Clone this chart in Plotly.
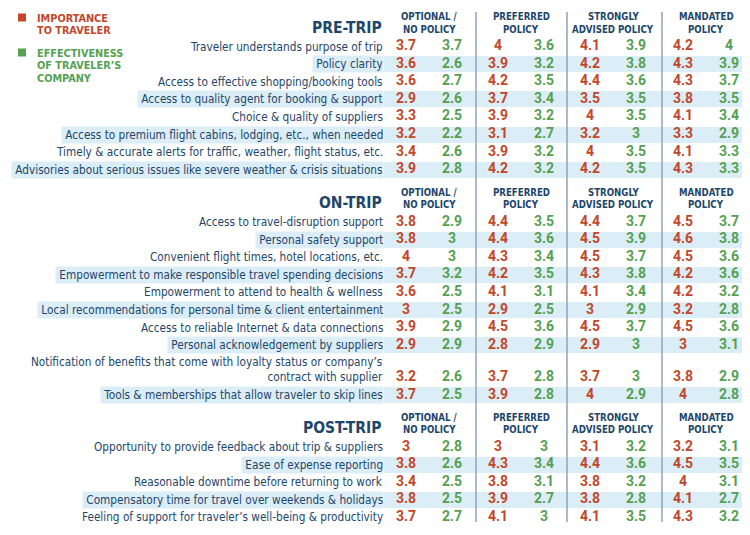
import plotly.graph_objects as go

# ---------------- data ----------------
policies = ["OPTIONAL /<br>NO POLICY", "PREFERRED<br>POLICY",
            "STRONGLY<br>ADVISED POLICY", "MANDATED<br>POLICY"]
section_titles = ["PRE-TRIP", "ON-TRIP", "POST-TRIP"]
legend_labels = ["IMPORTANCE<br>TO TRAVELER", "EFFECTIVENESS<br>OF TRAVELER’S<br>COMPANY"]

pre_trip_labels = [
    "Traveler understands purpose of trip",
    "Policy clarity",
    "Access to effective shopping/booking tools",
    "Access to quality agent for booking & support",
    "Choice & quality of suppliers",
    "Access to premium flight cabins, lodging, etc., when needed",
    "Timely & accurate alerts for traffic, weather, flight status, etc.",
    "Advisories about serious issues like severe weather & crisis situations",
]
pre_trip_importance = [
    [3.7, 4, 4.1, 4.2], [3.6, 3.9, 4.2, 4.3], [3.6, 4.2, 4.4, 4.3], [2.9, 3.7, 3.5, 3.8],
    [3.3, 3.9, 4, 4.1], [3.2, 3.1, 3.2, 3.3], [3.4, 3.9, 4, 4.1], [3.9, 4.2, 4.2, 4.3],
]
pre_trip_effectiveness = [
    [3.7, 3.6, 3.9, 4], [2.6, 3.2, 3.8, 3.9], [2.7, 3.5, 3.6, 3.7], [2.6, 3.4, 3.5, 3.5],
    [2.5, 3.2, 3.5, 3.4], [2.2, 2.7, 3, 2.9], [2.6, 3.2, 3.5, 3.3], [2.8, 3.2, 3.5, 3.3],
]

on_trip_labels = [
    "Access to travel-disruption support",
    "Personal safety support",
    "Convenient flight times, hotel locations, etc.",
    "Empowerment to make responsible travel spending decisions",
    "Empowerment to attend to health & wellness",
    "Local recommendations for personal time & client entertainment",
    "Access to reliable Internet & data connections",
    "Personal acknowledgement by suppliers",
    "Notification of benefits that come with loyalty status or company’s<br>contract with supplier",
    "Tools & memberships that allow traveler to skip lines",
]
on_trip_importance = [
    [3.8, 4.4, 4.4, 4.5], [3.8, 4.4, 4.5, 4.6], [4, 4.3, 4.5, 4.5], [3.7, 4.2, 4.3, 4.2],
    [3.6, 4.1, 4.1, 4.2], [3, 2.9, 3, 3.2], [3.9, 4.5, 4.5, 4.5], [2.9, 2.8, 2.9, 3],
    [3.2, 3.7, 3.7, 3.8], [3.7, 3.9, 4, 4],
]
on_trip_effectiveness = [
    [2.9, 3.5, 3.7, 3.7], [3, 3.6, 3.9, 3.8], [3, 3.4, 3.7, 3.6], [3.2, 3.5, 3.8, 3.6],
    [2.5, 3.1, 3.4, 3.2], [2.5, 2.5, 2.9, 2.8], [2.9, 3.6, 3.7, 3.6], [2.9, 2.9, 3, 3.1],
    [2.6, 2.8, 3, 2.9], [2.5, 2.8, 2.9, 2.8],
]

post_trip_labels = [
    "Opportunity to provide feedback about trip & suppliers",
    "Ease of expense reporting",
    "Reasonable downtime before returning to work",
    "Compensatory time for travel over weekends & holidays",
    "Feeling of support for traveler’s well-being & productivity",
]
post_trip_importance = [
    [3, 3, 3.1, 3.2], [3.8, 4.3, 4.4, 4.5], [3.4, 3.8, 3.8, 4],
    [3.8, 3.9, 3.8, 4.1], [3.7, 4.1, 4.1, 4.3],
]
post_trip_effectiveness = [
    [2.8, 3, 3.2, 3.1], [2.6, 3.4, 3.6, 3.5], [2.5, 3.1, 3.2, 3.1],
    [2.5, 2.7, 2.8, 2.7], [2.7, 3, 3.5, 3.2],
]

sections = [
    (section_titles[0], pre_trip_labels, pre_trip_importance, pre_trip_effectiveness),
    (section_titles[1], on_trip_labels, on_trip_importance, on_trip_effectiveness),
    (section_titles[2], post_trip_labels, post_trip_importance, post_trip_effectiveness),
]

# ---------------- styling / layout ----------------
W, H = 750, 535
PAGE_MARGIN = 8          # default body margin of the html page
RED = "#c2472a"
GREEN = "#55a053"
NAVY = "#1e466a"
BAND = "#dbedf6"
SEP = "#8ea3b6"
NARROW = "DejaVu Sans Condensed, Liberation Sans Narrow, sans-serif"
NUMFONT = "Roboto, Liberation Sans, sans-serif"

LABEL_RIGHT = 384
BAND_RIGHT = 745
GROUP_CENTERS = [429, 521, 613, 706]
PAIR_OFFSET = 23
SEPARATORS = [476, 567, 662]
SECTION_TOP = [46.5, 222, 447]
PITCH = 17.6
BAND_H = 16
HDR_LINE = 12.8

fig = go.Figure()
annotations = []
shapes = []

imp_x, imp_y, imp_t = [], [], []
eff_x, eff_y, eff_t = [], [], []
band_y = []

for s, (title, labels, imp, eff) in enumerate(sections):
    top = SECTION_TOP[s]
    annotations.append(dict(x=LABEL_RIGHT, y=top - 19, xref="x", yref="y", text=f"<b>{title}</b>",
                            showarrow=False, xanchor="right", yanchor="middle",
                            font=dict(family=NARROW, size=15.5, color=NAVY)))
    for g, pol in enumerate(policies):
        for li, ln in enumerate(pol.split("<br>")):
            annotations.append(dict(x=GROUP_CENTERS[g], y=top - 30 + li * HDR_LINE, xref="x", yref="y",
                                    text=f"<b>{ln}</b>", showarrow=False, xanchor="center",
                                    yanchor="middle", font=dict(family=NARROW, size=9.6, color=NAVY)))
    offset = 0.0
    for i, lab in enumerate(labels):
        nlines = lab.count("<br>") + 1
        h = 1 if nlines == 1 else 1.85
        y = top + PITCH * (offset + h - 1)
        offset += h
        banded = (i % 2 == 1)
        if banded:
            band_y.append(y)
        ann = dict(x=LABEL_RIGHT, y=y if nlines == 1 else y - 8, xref="x", yref="y",
                   text=("\u00a0" + lab) if banded else lab, showarrow=False,
                   xanchor="right", yanchor="middle", align="right", borderpad=0,
                   font=dict(family=NARROW, size=11.7, color=NAVY))
        if banded:
            ann.update(bgcolor=BAND, height=BAND_H)
        annotations.append(ann)
        for g in range(4):
            imp_x.append(GROUP_CENTERS[g] - PAIR_OFFSET)
            imp_y.append(y)
            imp_t.append(f"<b>{imp[i][g]:g}</b>")
            eff_x.append(GROUP_CENTERS[g] + PAIR_OFFSET)
            eff_y.append(y)
            eff_t.append(f"<b>{eff[i][g]:g}</b>")

fig.add_trace(go.Bar(orientation="h", y=band_y, x=[BAND_RIGHT - LABEL_RIGHT] * len(band_y),
                     base=LABEL_RIGHT, width=BAND_H, marker=dict(color=BAND, line=dict(width=0)),
                     hoverinfo="skip", showlegend=False))

fig.add_trace(go.Scatter(x=imp_x, y=imp_y, text=imp_t, mode="text", name="Importance",
                         textfont=dict(family=NUMFONT, size=14, color=RED),
                         textposition="middle center", showlegend=False, hoverinfo="skip"))
fig.add_trace(go.Scatter(x=eff_x, y=eff_y, text=eff_t, mode="text", name="Effectiveness",
                         textfont=dict(family=NUMFONT, size=14, color=GREEN),
                         textposition="middle center", showlegend=False, hoverinfo="skip"))

for sx in SEPARATORS:
    shapes.append(dict(type="line", xref="x", yref="y", x0=sx, x1=sx, y0=12, y1=522,
                       line=dict(color=SEP, width=1.5), layer="above"))

legend_tops = [18, 53]
for k, (lab, col) in enumerate(zip(legend_labels, [RED, GREEN])):
    t = legend_tops[k]
    shapes.append(dict(type="rect", xref="x", yref="y", x0=18, x1=26, y0=t - 4.5, y1=t + 3.5,
                       fillcolor=col, line=dict(width=0)))
    for li, ln in enumerate(lab.split("<br>")):
        annotations.append(dict(x=35, y=t + li * 12.7, xref="x", yref="y", text=f"<b>{ln}</b>",
                                showarrow=False, xanchor="left", yanchor="middle",
                                font=dict(family=NARROW, size=10.8, color=col)))

fig.update_layout(
    width=W - PAGE_MARGIN, height=H - PAGE_MARGIN, margin=dict(l=0, r=0, t=0, b=0),
    paper_bgcolor="white", plot_bgcolor="white",
    xaxis=dict(range=[PAGE_MARGIN, W], visible=False, fixedrange=True),
    yaxis=dict(range=[H, PAGE_MARGIN], visible=False, fixedrange=True),
    barmode="overlay", bargap=0,
    annotations=annotations, shapes=shapes, showlegend=False,
)

fig.write_html("out.html")
